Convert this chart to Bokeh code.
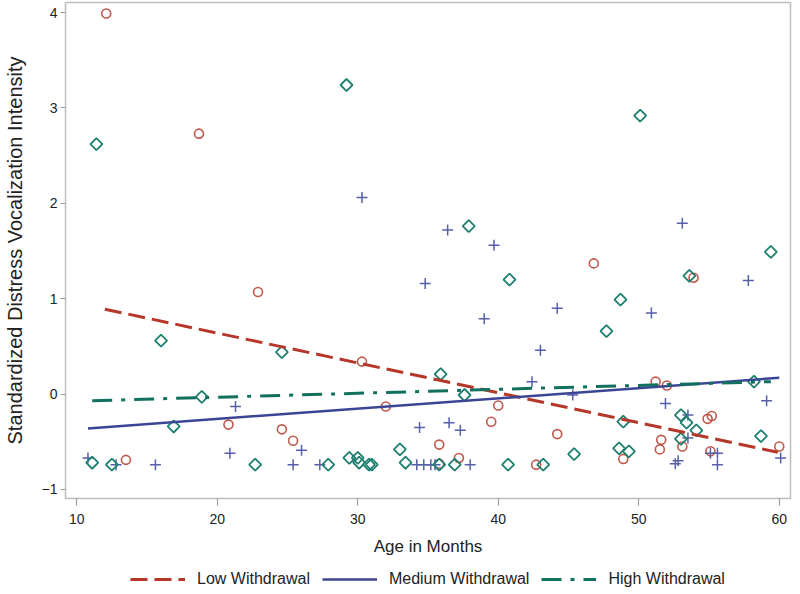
import numpy as np
from bokeh.plotting import figure
from bokeh.layouts import column
from bokeh.models import Range1d, Legend, LegendItem, FixedTicker
from bokeh.embed import file_html
from bokeh.resources import INLINE

# ---- data ----
low_age = [12.1, 18.7, 22.9, 30.3, 32.0, 20.8, 13.5, 24.6, 25.4, 35.8, 37.2, 40.0, 39.5,
           42.7, 44.2, 46.8, 53.9, 51.2, 52.0, 48.9, 51.5, 51.6, 53.1, 54.9, 55.2, 55.1,
           60.0, 35.8]
low_val = [3.99, 2.73, 1.07, 0.34, -0.13, -0.32, -0.69, -0.37, -0.49, -0.53, -0.67, -0.12, -0.29,
           -0.74, -0.42, 1.37, 1.22, 0.13, 0.09, -0.68, -0.58, -0.48, -0.55, -0.26, -0.23, -0.60,
           -0.55, -0.73]

med_age = [30.3, 36.4, 39.7, 34.8, 39.0, 53.1, 57.8, 44.2, 50.9, 43.0, 42.4, 45.3, 21.3,
           51.9, 59.1, 53.5, 34.4, 36.5, 37.3, 53.5, 26.0, 20.9, 10.8, 55.1, 55.6, 60.1,
           52.6, 52.8, 15.6, 12.8, 25.4, 27.3, 34.2, 34.7, 35.2, 35.5, 38.0, 55.6]
med_val = [2.06, 1.72, 1.56, 1.16, 0.79, 1.79, 1.19, 0.90, 0.85, 0.46, 0.13, -0.01, -0.13,
           -0.10, -0.07, -0.22, -0.35, -0.30, -0.38, -0.46, -0.59, -0.62, -0.67, -0.62, -0.62, -0.67,
           -0.73, -0.70, -0.74, -0.74, -0.74, -0.74, -0.74, -0.74, -0.74, -0.74, -0.74, -0.74]

high_age = [11.4, 29.2, 50.1, 37.9, 40.8, 59.4, 53.6, 48.7, 47.7, 16.0, 24.6, 18.9, 16.9,
            11.1, 12.5, 22.7, 35.9, 37.6, 33.0, 29.4, 30.0, 30.1, 30.8, 31.0, 33.4, 27.9,
            35.8, 36.9, 40.7, 43.2, 45.4, 48.9, 48.6, 49.3, 53.0, 53.4, 54.1, 53.0, 58.2, 58.7]
high_val = [2.62, 3.24, 2.92, 1.76, 1.20, 1.49, 1.24, 0.99, 0.66, 0.56, 0.44, -0.03, -0.34,
            -0.72, -0.74, -0.74, 0.21, -0.01, -0.58, -0.67, -0.67, -0.72, -0.74, -0.74, -0.72, -0.74,
            -0.74, -0.74, -0.74, -0.74, -0.63, -0.29, -0.57, -0.60, -0.22, -0.30, -0.38, -0.47, 0.13, -0.44]

# fitted lines (endpoints)
low_fit_age = [12.0, 59.9]
low_fit_val = [0.89, -0.61]
med_fit_age = [10.8, 60.0]
med_fit_val = [-0.36, 0.17]
high_fit_age = [11.1, 59.4]
high_fit_val = [-0.07, 0.13]

series_names = ["Low Withdrawal", "Medium Withdrawal", "High Withdrawal"]
x_ticks = [10, 20, 30, 40, 50, 60]
y_ticks = [-1, 0, 1, 2, 3, 4]

FONT = "Liberation Sans"
RED_M, BLUE_M, TEAL_M = "#C0584C", "#5560A8", "#1E8070"
RED_L, BLUE_L, TEAL_L = "#B5372A", "#3B4596", "#12705F"
LOW_STYLE = dict(line_color=RED_L, line_width=3, line_dash="17 7")
MED_STYLE = dict(line_color=BLUE_L, line_width=2.5)
HIGH_STYLE = dict(line_color=TEAL_L, line_width=3, line_dash="20 9 4 9")

p = figure(frame_width=725, frame_height=496, output_backend="svg", toolbar_location=None,
           x_range=Range1d(9.2, 60.8), y_range=Range1d(-1.095, 4.105))
p.min_border_left = 57
p.min_border_right = 2
p.min_border_top = 2
p.min_border_bottom = 64
p.background_fill_color = "white"
p.border_fill_color = "white"
p.outline_line_color = "#BDBDBD"
p.outline_line_width = 1.5
p.grid.visible = False

for ax in (p.xaxis[0], p.yaxis[0]):
    ax.axis_line_color = None
    ax.major_tick_line_color = "#9E9E9E"
    ax.major_tick_line_width = 1.2
    ax.minor_tick_line_color = None
    ax.major_tick_in = 0
    ax.major_label_text_font = FONT
    ax.major_label_text_font_size = "14px"
    ax.major_label_text_color = "#222222"
    ax.axis_label_text_font = FONT
    ax.axis_label_text_font_style = "normal"
    ax.axis_label_text_color = "#222222"

p.xaxis.ticker = FixedTicker(ticks=x_ticks)
p.yaxis.ticker = FixedTicker(ticks=y_ticks)
p.xaxis.axis_label = "Age in Months"
p.yaxis.axis_label = "Standardized Distress Vocalization Intensity"
p.xaxis.major_tick_out = 7
p.xaxis.major_label_standoff = 8
p.xaxis.axis_label_standoff = 10
p.xaxis.axis_label_text_font_size = "17px"
p.yaxis.major_tick_out = 5
p.yaxis.major_label_standoff = 3
p.yaxis.axis_label_standoff = 13
p.yaxis.axis_label_text_font_size = "20px"

# scatter points
p.scatter(low_age, low_val, marker="circle", size=9, fill_color=None,
          line_color=RED_M, line_width=1.6)
p.scatter(med_age, med_val, marker="cross", size=11,
          line_color=BLUE_M, line_width=1.5)
p.scatter(high_age, high_val, marker="square", size=8.5, angle=np.pi / 4, fill_color=None,
          line_color=TEAL_M, line_width=1.8)

# fit lines
p.line(low_fit_age, low_fit_val, **LOW_STYLE)
p.line(med_fit_age, med_fit_val, **MED_STYLE)
p.line(high_fit_age, high_fit_val, **HIGH_STYLE)

# legend strip below the plot (same line styles; lines fall outside this strip's view)
lg = figure(width=784, height=28, output_backend="svg", toolbar_location=None,
            x_range=Range1d(0, 1), y_range=Range1d(0, 1))
lg.min_border_left = 0
lg.min_border_right = 0
lg.min_border_top = 0
lg.min_border_bottom = 0
lg.axis.visible = False
lg.grid.visible = False
lg.outline_line_color = None
lg.background_fill_color = "white"
lg.border_fill_color = "white"
l_low = lg.line(low_fit_age, low_fit_val, **LOW_STYLE)
l_med = lg.line(med_fit_age, med_fit_val, **MED_STYLE)
l_high = lg.line(high_fit_age, high_fit_val, **HIGH_STYLE)

legend = Legend(items=[LegendItem(label=series_names[0], renderers=[l_low]),
                       LegendItem(label=series_names[1], renderers=[l_med]),
                       LegendItem(label=series_names[2], renderers=[l_high])],
                orientation="horizontal", location=(65, 2))
legend.label_text_font = FONT
legend.label_text_font_size = "16px"
legend.label_text_color = "#222222"
legend.glyph_width = 55
legend.glyph_height = 16
legend.label_height = 16
legend.spacing = 12
legend.label_standoff = 12
legend.border_line_color = None
legend.background_fill_alpha = 0
legend.margin = 0
legend.padding = 2
lg.add_layout(legend, "center")

layout = column(p, lg, spacing=0)
open("out.html", "w").write(file_html(layout, INLINE))
